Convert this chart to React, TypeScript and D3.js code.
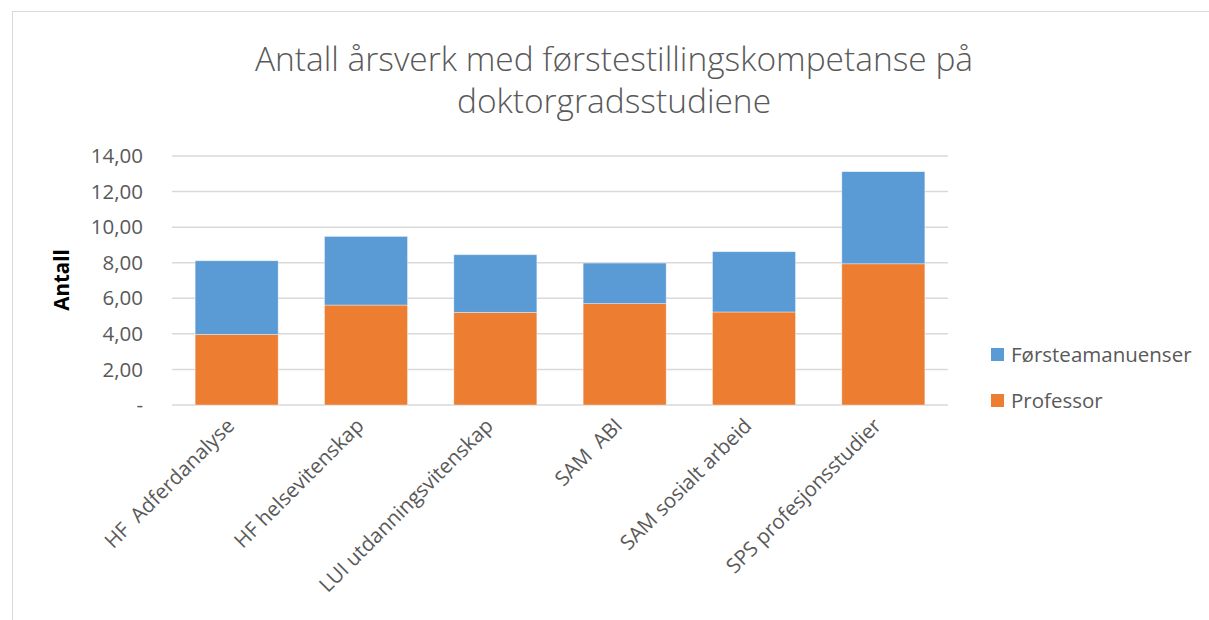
import * as d3 from "d3";
import React, { useEffect, useRef } from "react";

const categories = [
  "HF  Adferdanalyse",
  "HF helsevitenskap",
  "LUI utdanningsvitenskap",
  "SAM  ABI",
  "SAM sosialt arbeid",
  "SPS profesjonsstudier",
];
const professor = [3.97, 5.62, 5.21, 5.7, 5.23, 7.94];
const forsteamanuenser = [4.14, 3.86, 3.24, 2.28, 3.39, 5.18];
const seriesNames = ["Professor", "Førsteamanuenser"];
const seriesColors = ["#ED7D31", "#5B9BD5"];
const yTicks = [0, 2, 4, 6, 8, 10, 12, 14];
const titleLines = [
  "Antall årsverk med førstestillingskompetanse på",
  "doktorgradsstudiene",
];

const W = 1209;
const H = 620;
const FONT = "'Open Sans', sans-serif";

const App: React.FC = () => {
  const svgRef = useRef<SVGSVGElement>(null);

  useEffect(() => {
    const svg = d3.select(svgRef.current);
    svg.selectAll("*").remove();

    // chart frame
    svg
      .append("rect")
      .attr("x", 12.5)
      .attr("y", 11.5)
      .attr("width", W + 20)
      .attr("height", H + 20)
      .attr("fill", "#fff")
      .attr("stroke", "#d9d9d9")
      .attr("stroke-width", 1);

    const x = d3
      .scaleBand<string>()
      .domain(categories)
      .range([172, 948])
      .paddingInner(0.358)
      .paddingOuter(0.179);

    const y = d3.scaleLinear().domain([0, 14]).range([405, 156]);

    // title
    svg
      .append("g")
      .selectAll("text")
      .data(titleLines)
      .join("text")
      .attr("x", 614)
      .attr("y", (_, i) => 71 + i * 42)
      .attr("text-anchor", "middle")
      .attr("font-family", FONT)
      .attr("font-weight", 300)
      .attr("font-size", 33.5)
      .attr("fill", "#595959")
      .text((d) => d);

    // gridlines
    svg
      .append("g")
      .selectAll("line")
      .data(yTicks)
      .join("line")
      .attr("x1", 172)
      .attr("x2", 948)
      .attr("y1", (d) => y(d))
      .attr("y2", (d) => y(d))
      .attr("stroke", "#d9d9d9")
      .attr("stroke-width", 1.5);

    // y tick labels
    svg
      .append("g")
      .selectAll("text")
      .data(yTicks)
      .join("text")
      .attr("x", 143)
      .attr("y", (d) => y(d))
      .attr("dy", "0.35em")
      .attr("text-anchor", "end")
      .attr("font-family", FONT)
      .attr("font-size", 20.5)
      .attr("fill", "#595959")
      .text((d) => (d === 0 ? "-" : d3.format(".2f")(d).replace(".", ",")));

    // y axis title
    svg
      .append("text")
      .attr("transform", "translate(69,280) rotate(-90)")
      .attr("text-anchor", "middle")
      .attr("font-family", FONT)
      .attr("font-weight", 700)
      .attr("font-size", 20.5)
      .attr("fill", "#000")
      .text("Antall");

    // stacked bars
    const table = categories.map((c, i) => ({
      cat: c,
      Professor: professor[i],
      Førsteamanuenser: forsteamanuenser[i],
    }));
    const stacked = d3.stack<any>().keys(seriesNames)(table);

    svg
      .append("g")
      .selectAll("g")
      .data(stacked)
      .join("g")
      .attr("fill", (_, i) => seriesColors[i])
      .selectAll("rect")
      .data((d) => d)
      .join("rect")
      .attr("x", (d) => x(d.data.cat) || 0)
      .attr("width", x.bandwidth())
      .attr("y", (d) => y(d[1]))
      .attr("height", (d) => y(d[0]) - y(d[1]))
      .attr("stroke", "#fff")
      .attr("stroke-opacity", 0.5)
      .attr("stroke-width", 0.75);

    // x labels
    svg
      .append("g")
      .selectAll("text")
      .data(categories)
      .join("text")
      .attr(
        "transform",
        (d) => `translate(${(x(d) || 0) + x.bandwidth() / 2 - 1},427) rotate(-45)`
      )
      .attr("text-anchor", "end")
      .attr("font-family", FONT)
      .attr("font-size", 20.5)
      .attr("fill", "#595959")
      .style("white-space", "pre")
      .text((d) => d);

    // legend
    const legendItems = [
      { name: "Førsteamanuenser", color: seriesColors[1], y: 355 },
      { name: "Professor", color: seriesColors[0], y: 401 },
    ];
    const lg = svg
      .append("g")
      .selectAll("g")
      .data(legendItems)
      .join("g")
      .attr("transform", (d) => `translate(991,${d.y})`);
    lg.append("rect")
      .attr("x", 0)
      .attr("y", -7)
      .attr("width", 13)
      .attr("height", 13)
      .attr("fill", (d) => d.color);
    lg.append("text")
      .attr("x", 20)
      .attr("dy", "0.35em")
      .attr("font-family", FONT)
      .attr("font-size", 20.5)
      .attr("fill", "#595959")
      .text((d) => d.name);
  }, []);

  return (
    <svg
      ref={svgRef}
      width={W}
      height={H}
      style={{ position: "absolute", left: 0, top: 0, background: "#fff" }}
    />
  );
};

export default App;
